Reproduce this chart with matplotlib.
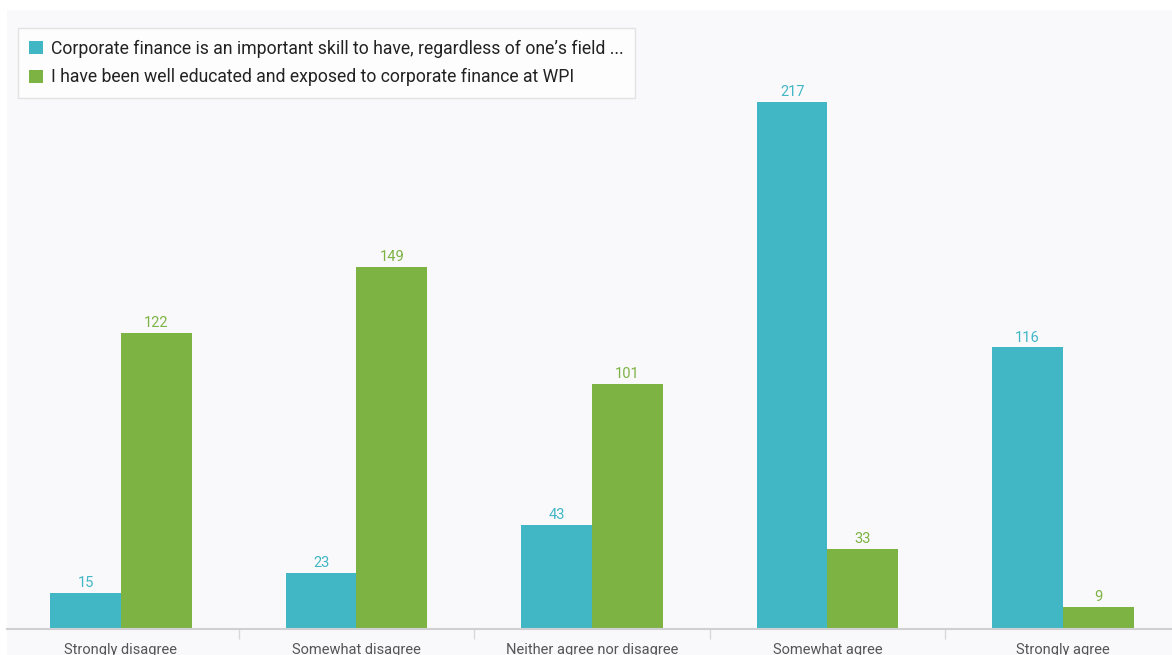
import matplotlib.pyplot as plt
import matplotlib.patches as mpatches
import numpy as np

# -------------------- Data --------------------
categories = ["Strongly disagree", "Somewhat disagree", "Neither agree nor disagree",
              "Somewhat agree", "Strongly agree"]
series_names = [
    "Corporate finance is an important skill to have, regardless of one\u2019s field ...",
    "I have been well educated and exposed to corporate finance at WPI",
]
important_skill = [15, 23, 43, 217, 116]
well_educated = [122, 149, 101, 33, 9]

CYAN = "#41b6c4"
GREEN = "#7db343"
BG = "#f9f9fc"

plt.rcParams["font.family"] = ["Roboto", "DejaVu Sans"]

W, H = 1172, 655
fig = plt.figure(figsize=(W / 100, H / 100), dpi=100, facecolor="white")

# light panel behind the chart
fig.patches.append(mpatches.Rectangle((7 / W, 0), 1 - 7 / W, 1 - 10 / H,
                                      transform=fig.transFigure, facecolor=BG,
                                      edgecolor="none", zorder=-1))

ax = fig.add_axes([7 / W, (H - 629) / H, 1 - 7 / W, 619 / H])
ax.set_facecolor(BG)

x = np.arange(len(categories))
bw = 0.3
b1 = ax.bar(x - bw / 2, important_skill, bw, color=CYAN, label=series_names[0], zorder=2)
b2 = ax.bar(x + bw / 2, well_educated, bw, color=GREEN, label=series_names[1], zorder=2)

for bars, vals, col in [(b1, important_skill, CYAN), (b2, well_educated, GREEN)]:
    for bar, v in zip(bars, vals):
        ax.annotate(str(v), xy=(bar.get_x() + bar.get_width() / 2, v),
                    xytext=(0, 2), textcoords="offset points",
                    ha="center", va="bottom", fontsize=10.5, color=col)

ax.set_xlim(-0.484, 4.463)
ax.set_ylim(0, 254.9)

for s in ["top", "right", "left"]:
    ax.spines[s].set_visible(False)
ax.spines["bottom"].set_color("#d0d0d4")
ax.spines["bottom"].set_linewidth(1.5)
ax.set_yticks([])

ax.set_xticks(x)
ax.set_xticklabels(categories, fontsize=10.5, color="#555555")
ax.tick_params(axis="x", length=0, pad=10)
ax.set_xticks(np.arange(len(categories) - 1) + 0.5, minor=True)
ax.tick_params(axis="x", which="minor", length=7, width=1, color="#d8d8dc")

leg = ax.legend(loc="upper left", bbox_to_anchor=(11 / 1165, 1 - 18 / 619),
                fontsize=12.7, frameon=True, fancybox=False,
                handlelength=0.75, handleheight=0.75, handletextpad=0.45,
                borderpad=0.65, labelspacing=0.6, borderaxespad=0)
leg.get_frame().set_edgecolor("#dcdcdc")
leg.get_frame().set_facecolor("white")
leg.get_frame().set_linewidth(1)
for t in leg.get_texts():
    t.set_color("#222222")

fig.savefig("out.png", dpi=100, facecolor="white")
